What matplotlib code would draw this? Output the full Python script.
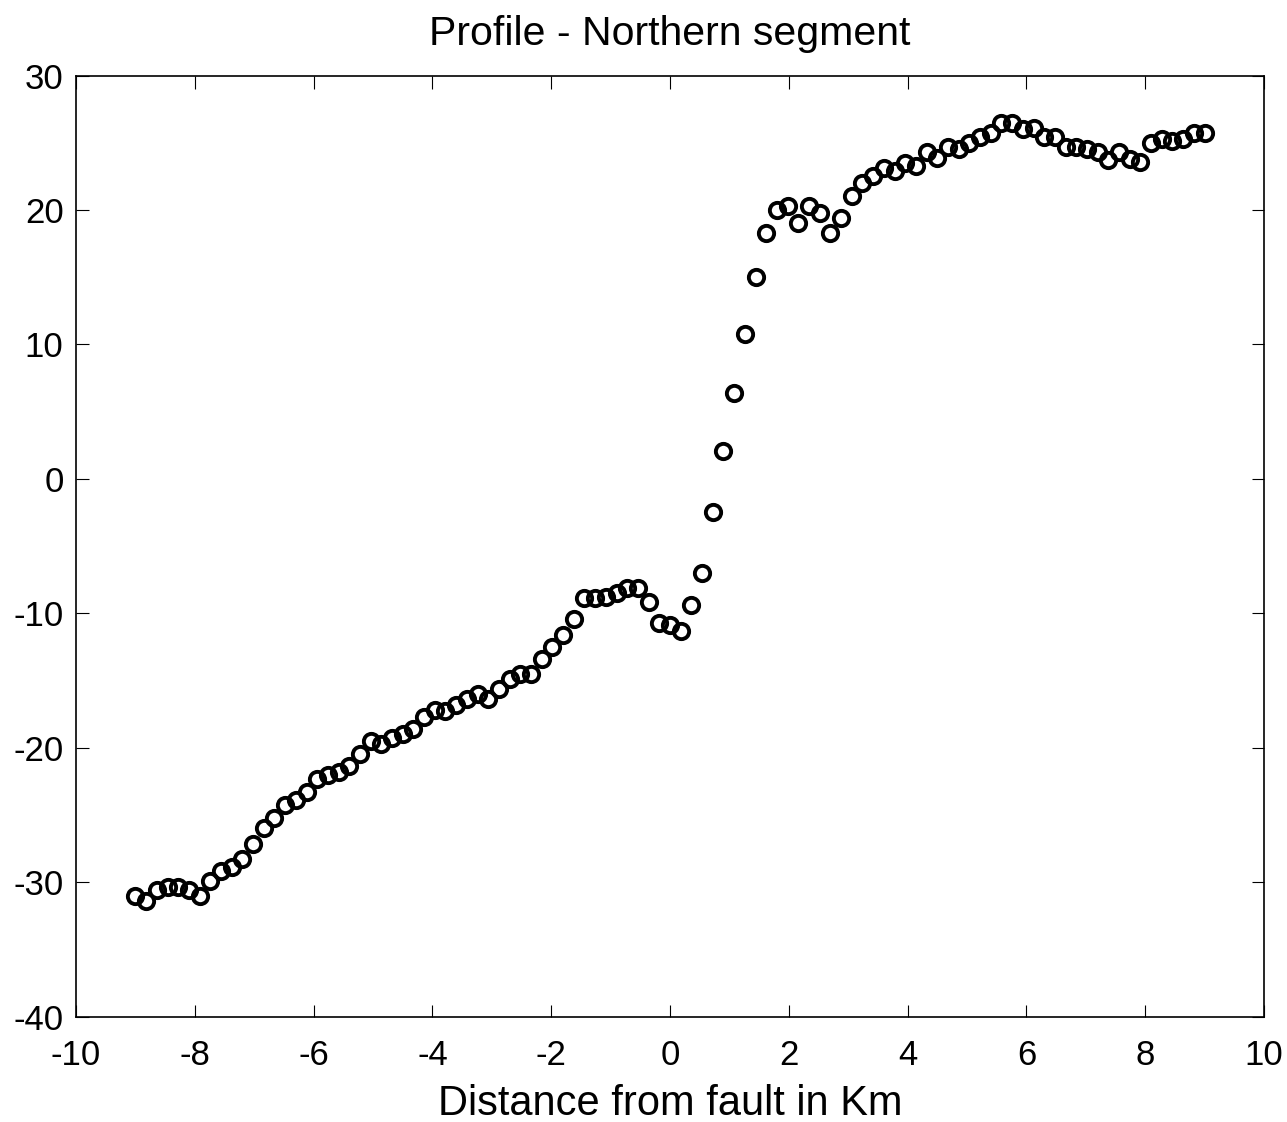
import matplotlib.pyplot as plt

plt.rcParams['font.family'] = ['Liberation Sans', 'DejaVu Sans']
plt.rcParams['axes.unicode_minus'] = False

# Sample positions along the profile (km from the fault trace)
distance_km = [
    -9.00, -8.82, -8.64, -8.46, -8.28, -8.10, -7.92, -7.74, -7.56, -7.38,
    -7.20, -7.02, -6.84, -6.66, -6.48, -6.30, -6.12, -5.94, -5.76, -5.58,
    -5.40, -5.22, -5.04, -4.86, -4.68, -4.50, -4.32, -4.14, -3.96, -3.78,
    -3.60, -3.42, -3.24, -3.06, -2.88, -2.70, -2.52, -2.34, -2.16, -1.98,
    -1.80, -1.62, -1.44, -1.26, -1.08, -0.90, -0.72, -0.54, -0.36, -0.18,
    0.00, 0.18, 0.36, 0.54, 0.72, 0.90, 1.08, 1.26, 1.44, 1.62,
    1.80, 1.98, 2.16, 2.34, 2.52, 2.70, 2.88, 3.06, 3.24, 3.42,
    3.60, 3.78, 3.96, 4.14, 4.32, 4.50, 4.68, 4.86, 5.04, 5.22,
    5.40, 5.58, 5.76, 5.94, 6.12, 6.30, 6.48, 6.66, 6.84, 7.02,
    7.20, 7.38, 7.56, 7.74, 7.92, 8.10, 8.28, 8.46, 8.64, 8.82,
    9.00,
]

# Displacement measured at each sample
displacement = [
    -31.0, -31.4, -30.6, -30.4, -30.4, -30.6, -31.0, -29.9, -29.2, -28.9,
    -28.3, -27.2, -26.0, -25.2, -24.3, -23.9, -23.3, -22.3, -22.0, -21.8,
    -21.4, -20.5, -19.5, -19.7, -19.3, -19.0, -18.6, -17.7, -17.2, -17.3,
    -16.8, -16.4, -16.0, -16.4, -15.6, -14.9, -14.5, -14.5, -13.4, -12.5,
    -11.6, -10.4, -8.9, -8.9, -8.8, -8.5, -8.1, -8.1, -9.2, -10.7,
    -10.9, -11.3, -9.4, -7.0, -2.5, 2.1, 6.4, 10.8, 15.0, 18.3,
    20.0, 20.3, 19.0, 20.3, 19.8, 18.3, 19.4, 21.0, 22.0, 22.5,
    23.1, 22.9, 23.5, 23.3, 24.3, 23.9, 24.7, 24.5, 25.0, 25.4,
    25.7, 26.5, 26.5, 26.0, 26.1, 25.4, 25.4, 24.7, 24.7, 24.5,
    24.3, 23.7, 24.3, 23.8, 23.6, 25.0, 25.3, 25.1, 25.3, 25.7,
    25.7,
]

x_ticks = [-10, -8, -6, -4, -2, 0, 2, 4, 6, 8, 10]
y_ticks = [-40, -30, -20, -10, 0, 10, 20, 30]

fig = plt.figure(figsize=(12.87, 11.22), dpi=100)
ax = fig.add_axes([0.0591, 0.094, 0.923, 0.8387])

ax.plot(distance_km, displacement, linestyle='none', marker='o',
        markersize=11, markerfacecolor='none', markeredgecolor='black',
        markeredgewidth=2.8)

ax.set_xlim(-10, 10)
ax.set_ylim(-40, 30)
ax.set_xticks(x_ticks)
ax.set_yticks(y_ticks)
ax.tick_params(direction='in', length=9, width=0.8, labelsize=25,
               top=True, right=True)
ax.tick_params(axis='x', pad=16)
ax.tick_params(axis='y', pad=9)
for spine in ax.spines.values():
    spine.set_linewidth(1.2)

ax.set_title('Profile - Northern segment', fontsize=29.5, pad=22)
ax.set_xlabel('Distance from fault in Km', fontsize=30, labelpad=9)

fig.savefig('out.png', dpi=100)
